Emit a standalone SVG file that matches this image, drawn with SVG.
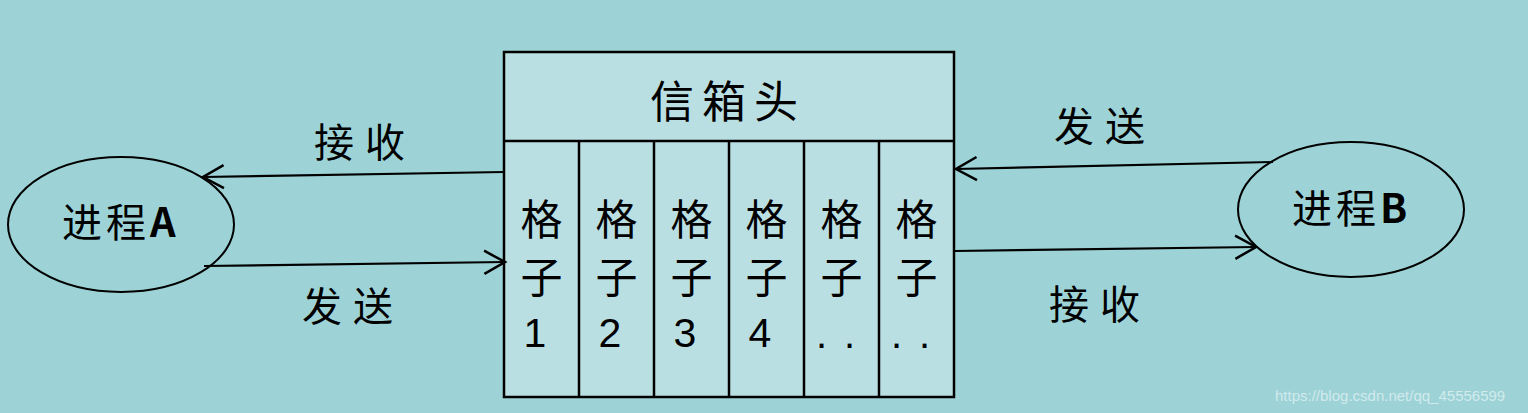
<svg xmlns="http://www.w3.org/2000/svg" width="1528" height="413" viewBox="0 0 1528 413">
<defs>
<style>
.cjk{font-family:"Noto Sans CJK SC","Noto Sans",sans-serif;fill:#000;dominant-baseline:central}
.lbl{font-size:40px;letter-spacing:11px}
.cell{font-size:42px;text-anchor:middle}
.num{font-family:"Liberation Sans",Arial,sans-serif;font-size:41px;text-anchor:middle;fill:#000}
.dots{font-family:"Liberation Sans",Arial,sans-serif;font-size:40px;letter-spacing:17px;fill:#000}
.edge{stroke:#000;stroke-width:2.2;fill:none;marker-end:url(#arr)}
.shape{stroke:#000;stroke-width:2;fill:none}
.div{stroke:#000;stroke-width:2.5}
.box{stroke:#000;stroke-width:2.5;fill:#BADFE3}
</style>
<marker id="arr" markerUnits="userSpaceOnUse" markerWidth="30" markerHeight="30" viewBox="-22 -13 26 26" refX="0" refY="0" orient="auto">
<path d="M -18 -10 L 0 0 L -18 10" fill="none" stroke="#000" stroke-width="2.2"/>
</marker>
</defs>
<rect width="1528" height="413" fill="#9DD3D7"/>

<g id="processA">
<ellipse class="shape" cx="121" cy="224.5" rx="113" ry="67.5"/>
<text class="cjk" x="62" y="220" font-size="40" letter-spacing="4">进程<tspan font-weight="bold">A</tspan></text>
</g>

<g id="processB">
<ellipse class="shape" cx="1351" cy="209.5" rx="113" ry="67.5"/>
<text class="cjk" x="1292" y="205.5" font-size="40" letter-spacing="4">进程<tspan font-weight="bold">B</tspan></text>
</g>

<g id="mailbox">
<rect class="box" x="504" y="52" width="450" height="345"/>
<line class="div" x1="504" y1="141" x2="954" y2="141"/>
<line class="div" x1="579" y1="141" x2="579" y2="397"/>
<line class="div" x1="654" y1="141" x2="654" y2="397"/>
<line class="div" x1="729" y1="141" x2="729" y2="397"/>
<line class="div" x1="804" y1="141" x2="804" y2="397"/>
<line class="div" x1="879" y1="141" x2="879" y2="397"/>
<text class="cjk" x="650" y="98.5" font-size="44" letter-spacing="8">信箱头</text>
</g>

<g id="cell1">
<text class="cjk cell" x="541.5" y="216">格</text>
<text class="cjk cell" x="541.5" y="274">子</text>
<text class="num" x="535" y="347">1</text>
</g>
<g id="cell2">
<text class="cjk cell" x="616.5" y="216">格</text>
<text class="cjk cell" x="616.5" y="274">子</text>
<text class="num" x="610" y="347">2</text>
</g>
<g id="cell3">
<text class="cjk cell" x="691.5" y="216">格</text>
<text class="cjk cell" x="691.5" y="274">子</text>
<text class="num" x="685" y="347">3</text>
</g>
<g id="cell4">
<text class="cjk cell" x="766.5" y="216">格</text>
<text class="cjk cell" x="766.5" y="274">子</text>
<text class="num" x="760" y="347">4</text>
</g>
<g id="cell5">
<text class="cjk cell" x="841.5" y="216">格</text>
<text class="cjk cell" x="841.5" y="274">子</text>
<text class="dots" x="816" y="348">..</text>
</g>
<g id="cell6">
<text class="cjk cell" x="916.5" y="216">格</text>
<text class="cjk cell" x="916.5" y="274">子</text>
<text class="dots" x="891" y="348">..</text>
</g>

<g id="connectors">
<line class="edge" x1="504" y1="172" x2="203" y2="177"/>
<line class="edge" x1="204" y1="266" x2="505" y2="262"/>
<line class="edge" x1="1273" y1="162" x2="956" y2="169"/>
<line class="edge" x1="955" y1="251" x2="1256" y2="247"/>
<text class="cjk lbl" x="314" y="139.5">接收</text>
<text class="cjk lbl" x="302" y="304">发送</text>
<text class="cjk lbl" x="1054" y="124">发送</text>
<text class="cjk lbl" x="1049" y="302">接收</text>
</g>

<text x="1275" y="401" font-family="Liberation Sans,Arial,sans-serif" font-size="15" fill="#FFFFFF" fill-opacity="0.55">https://blog.csdn.net/qq_45556599</text>
</svg>
